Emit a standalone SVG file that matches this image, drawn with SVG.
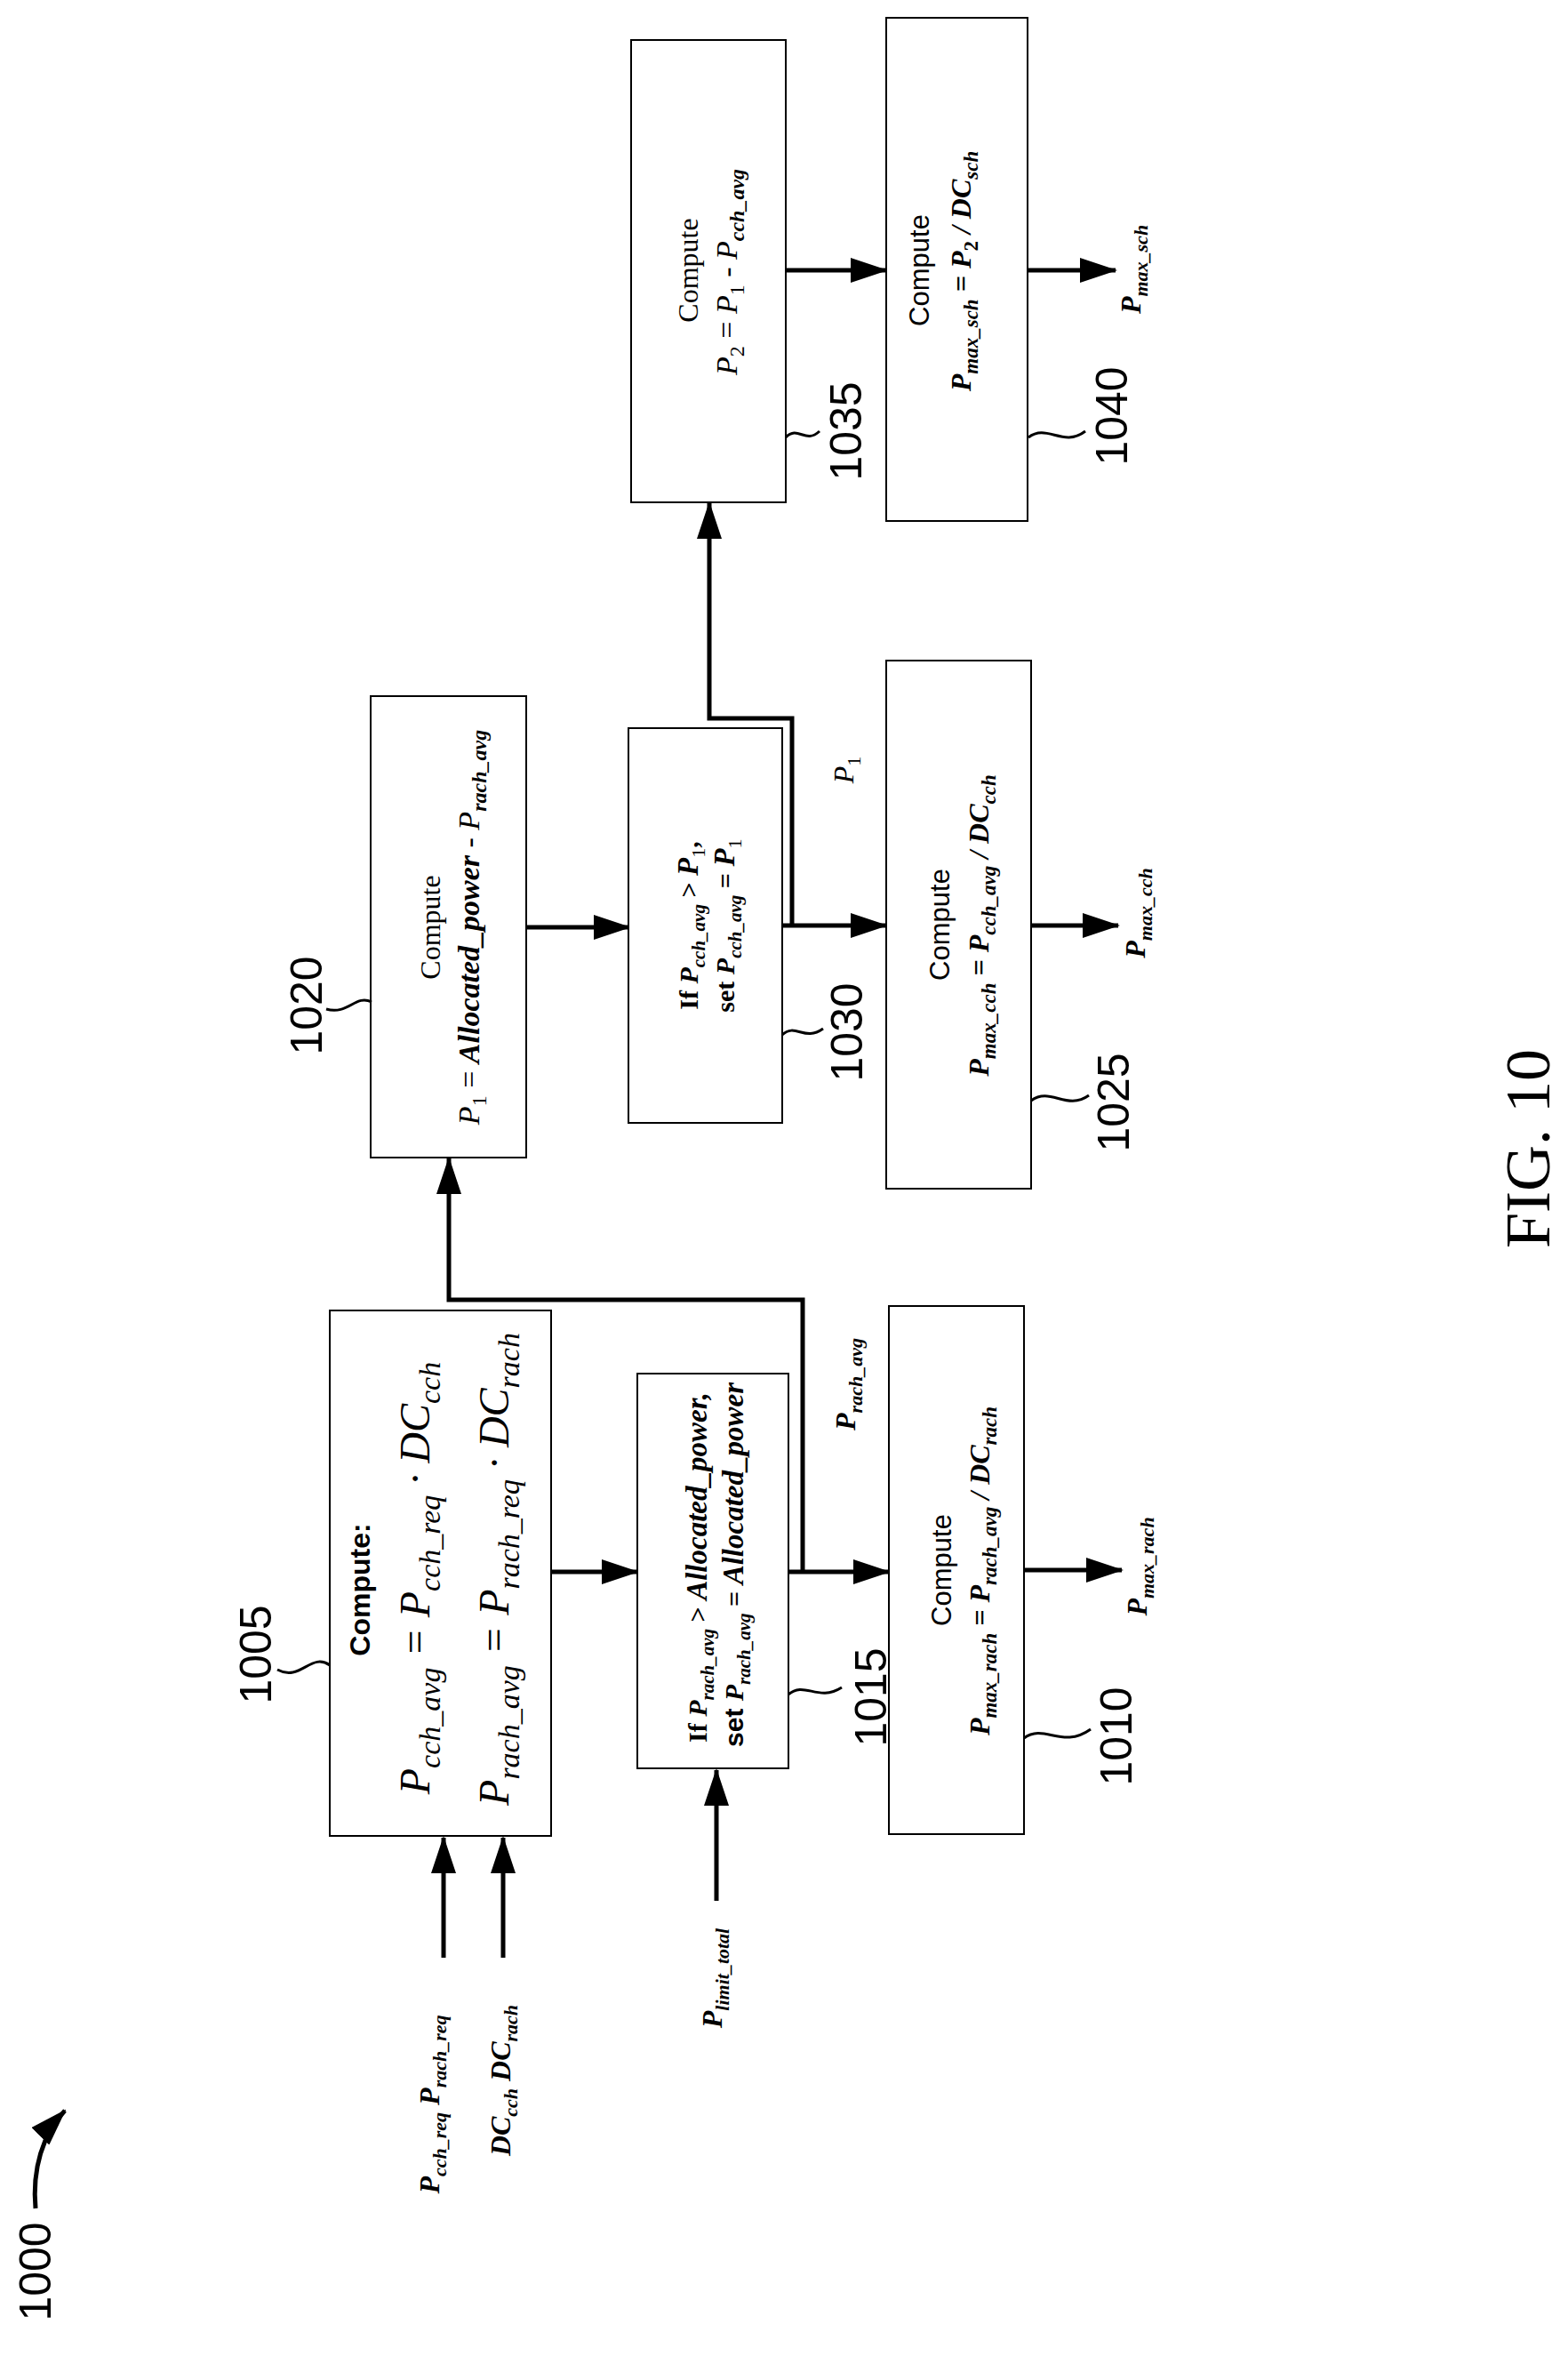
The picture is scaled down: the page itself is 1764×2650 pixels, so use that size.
<svg xmlns="http://www.w3.org/2000/svg" width="1764" height="2650" viewBox="0 0 1764 2650">
<defs>
<marker id="ah" markerUnits="userSpaceOnUse" markerWidth="42" markerHeight="28" refX="40" refY="14" orient="auto"><path d="M0,0 L42,14 L0,28 z" fill="#000"/></marker>
<style>
.box{fill:#fff;stroke:#000;stroke-width:2}
.c{fill:none;stroke:#000;stroke-width:5}
.sq{fill:none;stroke:#000;stroke-width:3}
text{text-anchor:middle;fill:#000}
.sans{font-family:"Liberation Sans",Arial,sans-serif}
.serif{font-family:"Liberation Serif","Times New Roman",serif}
.it{font-family:"Liberation Serif","Times New Roman",serif;font-style:italic}
.bi{font-family:"Liberation Serif","Times New Roman",serif;font-style:italic;font-weight:bold}
.num{font-family:"Liberation Sans",Arial,sans-serif;font-size:50px}
</style>
</defs>
<rect width="1764" height="2650" fill="#fff"/>
<g id="connectors">
<path class="c" d="M499,2202 V2067" marker-end="url(#ah)"/>
<path class="c" d="M566,2202 V2067" marker-end="url(#ah)"/>
<path class="c" d="M806,2138 V1991" marker-end="url(#ah)"/>
<path class="c" d="M620,1768 H717" marker-end="url(#ah)"/>
<path class="c" d="M887,1768 H1000" marker-end="url(#ah)"/>
<path class="c" d="M903,1768 V1462 H505 V1303" marker-end="url(#ah)"/>
<path class="c" d="M592,1043 H708" marker-end="url(#ah)"/>
<path class="c" d="M880,1041 H997" marker-end="url(#ah)"/>
<path class="c" d="M891,1041 V808 H798 V566" marker-end="url(#ah)"/>
<path class="c" d="M884,304 H997" marker-end="url(#ah)"/>
<path class="c" d="M1156,304 H1255" marker-end="url(#ah)"/>
<path class="c" d="M1160,1041 H1258" marker-end="url(#ah)"/>
<path class="c" d="M1152,1766 H1262" marker-end="url(#ah)"/>
<path class="c" d="M40,2484 C36,2440 48,2400 73,2374" marker-end="url(#ah)"/>
</g>
<g id="n1005">
<rect class="box" x="371" y="1474" width="249" height="591"/>
<text class="sans" font-size="32" font-weight="bold" transform="translate(416,1788) rotate(-90)">Compute:</text>
<text class="it" font-size="48" transform="translate(483,1775) rotate(-90)">P<tspan font-size="34" dy="12">cch_avg</tspan><tspan dy="-12"> = P</tspan><tspan font-size="34" dy="12">cch_req</tspan><tspan dy="-12"> · DC</tspan><tspan font-size="34" dy="12">cch</tspan></text>
<text class="it" font-size="48" transform="translate(572,1765) rotate(-90)">P<tspan font-size="34" dy="12">rach_avg</tspan><tspan dy="-12"> = P</tspan><tspan font-size="34" dy="12">rach_req</tspan><tspan dy="-12"> · DC</tspan><tspan font-size="34" dy="12">rach</tspan></text>
<path class="sq" d="M371,1873 C350,1858 338,1892 312,1878"/>
<text class="num" transform="translate(305,1861) rotate(-90)">1005</text>
</g>
<g id="n1015">
<rect class="box" x="717" y="1545" width="170" height="444"/>
<text class="serif" font-size="30" font-weight="bold" transform="translate(795,1763) rotate(-90)">If <tspan class="bi">P</tspan><tspan class="bi" font-size="21" dy="8">rach_avg</tspan><tspan dy="-8"> &gt; </tspan><tspan class="bi" font-size="33">Allocated_power,</tspan></text>
<text class="serif" font-size="30" font-weight="bold" transform="translate(836,1760) rotate(-90)"><tspan class="sans">set </tspan><tspan class="bi">P</tspan><tspan class="bi" font-size="21" dy="8">rach_avg</tspan><tspan dy="-8"> = </tspan><tspan class="bi" font-size="33">Allocated_power</tspan></text>
<path class="sq" d="M887,1906 C905,1890 920,1915 947,1898"/>
<text class="num" transform="translate(997,1909) rotate(-90)">1015</text>
</g>
<g id="n1010">
<rect class="box" x="1000" y="1469" width="152" height="594"/>
<text class="sans" font-size="31" transform="translate(1070,1766) rotate(-90)">Compute</text>
<text class="bi" font-size="32" font-weight="normal" transform="translate(1113,1767) rotate(-90)">P<tspan font-size="23" dy="8" font-weight="bold">max_rach</tspan><tspan dy="-8"> = P</tspan><tspan font-size="23" dy="8" font-weight="bold">rach_avg</tspan><tspan dy="-8"> / DC</tspan><tspan font-size="23" dy="8" font-weight="bold">rach</tspan></text>
<path class="sq" d="M1152,1955 C1175,1938 1195,1968 1227,1945"/>
<text class="num" transform="translate(1273,1953) rotate(-90)">1010</text>
</g>
<g id="n1020">
<rect class="box" x="417" y="783" width="175" height="519"/>
<text class="serif" font-size="32" transform="translate(495,1043) rotate(-90)">Compute</text>
<text class="it" font-size="34" transform="translate(539,1043) rotate(-90)">P<tspan font-size="24" dy="8" font-style="normal">1</tspan><tspan dy="-8" font-style="normal"> = </tspan><tspan font-weight="bold">Allocated_power</tspan><tspan font-style="normal"> - </tspan>P<tspan font-size="24" dy="8" font-weight="bold">rach_avg</tspan></text>
<path class="sq" d="M418,1127 C400,1118 392,1142 367,1135"/>
<text class="num" transform="translate(362,1131) rotate(-90)">1020</text>
</g>
<g id="n1030">
<rect class="box" x="707" y="819" width="173" height="444"/>
<text class="serif" font-size="30" font-weight="bold" transform="translate(785,1041) rotate(-90)">If <tspan class="bi">P</tspan><tspan class="bi" font-size="21" dy="8">cch_avg</tspan><tspan dy="-8"> &gt; </tspan><tspan class="it" font-size="33">P</tspan><tspan font-size="22" dy="8" font-weight="normal">1</tspan><tspan dy="-8">,</tspan></text>
<text class="serif" font-size="30" font-weight="bold" transform="translate(826,1041) rotate(-90)">set <tspan class="bi">P</tspan><tspan class="bi" font-size="21" dy="8">cch_avg</tspan><tspan dy="-8"> = </tspan><tspan class="it" font-size="33">P</tspan><tspan font-size="22" dy="8" font-weight="normal">1</tspan></text>
<path class="sq" d="M880,1164 C895,1150 905,1172 926,1157"/>
<text class="num" transform="translate(970,1161) rotate(-90)">1030</text>
</g>
<g id="n1025">
<rect class="box" x="997" y="743" width="163" height="594"/>
<text class="sans" font-size="31" transform="translate(1068,1040) rotate(-90)">Compute</text>
<text class="bi" font-size="32" font-weight="normal" transform="translate(1112,1041) rotate(-90)">P<tspan font-size="23" dy="8" font-weight="bold">max_cch</tspan><tspan dy="-8"> = P</tspan><tspan font-size="23" dy="8" font-weight="bold">cch_avg</tspan><tspan dy="-8"> / DC</tspan><tspan font-size="23" dy="8" font-weight="bold">cch</tspan></text>
<path class="sq" d="M1160,1238 C1182,1222 1200,1250 1225,1232"/>
<text class="num" transform="translate(1270,1240) rotate(-90)">1025</text>
</g>
<g id="n1035">
<rect class="box" x="710" y="45" width="174" height="520"/>
<text class="serif" font-size="32" transform="translate(785,304) rotate(-90)">Compute</text>
<text class="it" font-size="34" transform="translate(829,306) rotate(-90)">P<tspan font-size="24" dy="8" font-style="normal">2</tspan><tspan dy="-8" font-style="normal"> = </tspan>P<tspan font-size="24" dy="8" font-style="normal">1</tspan><tspan dy="-8" font-style="normal"> - </tspan>P<tspan font-size="24" dy="8" font-weight="bold">cch_avg</tspan></text>
<path class="sq" d="M884,492 C898,478 906,500 922,485"/>
<text class="num" transform="translate(969,485) rotate(-90)">1035</text>
</g>
<g id="n1040">
<rect class="box" x="997" y="20" width="159" height="566"/>
<text class="sans" font-size="31" transform="translate(1045,304) rotate(-90)">Compute</text>
<text class="bi" font-size="32" font-weight="normal" transform="translate(1092,305) rotate(-90)">P<tspan font-size="23" dy="8" font-weight="bold">max_sch</tspan><tspan dy="-8"> = P</tspan><tspan font-size="23" dy="8" font-style="normal">2</tspan><tspan dy="-8"> / DC</tspan><tspan font-size="23" dy="8" font-weight="bold">sch</tspan></text>
<path class="sq" d="M1157,492 C1178,476 1196,504 1221,485"/>
<text class="num" transform="translate(1268,468) rotate(-90)">1040</text>
</g>
<g id="labels">
<text class="bi" font-size="32" transform="translate(494,2367) rotate(-90)">P<tspan font-size="22" dy="8">cch_req</tspan><tspan dy="-8"> P</tspan><tspan font-size="22" dy="8">rach_req</tspan></text>
<text class="bi" font-size="32" transform="translate(574,2340) rotate(-90)">DC<tspan font-size="22" dy="8">cch</tspan><tspan dy="-8"> DC</tspan><tspan font-size="22" dy="8">rach</tspan></text>
<text class="bi" font-size="32" transform="translate(812,2225) rotate(-90)">P<tspan font-size="22" dy="8">limit_total</tspan></text>
<text class="bi" font-size="32" transform="translate(962,1557) rotate(-90)">P<tspan font-size="22" dy="8">rach_avg</tspan></text>
<text class="it" font-size="32" transform="translate(960,866) rotate(-90)">P<tspan font-size="22" dy="8" font-style="normal">1</tspan></text>
<text class="bi" font-size="32" transform="translate(1288,1027) rotate(-90)">P<tspan font-size="22" dy="8">max_cch</tspan></text>
<text class="bi" font-size="32" transform="translate(1290,1762) rotate(-90)">P<tspan font-size="22" dy="8">max_rach</tspan></text>
<text class="bi" font-size="32" transform="translate(1283,303) rotate(-90)">P<tspan font-size="22" dy="8">max_sch</tspan></text>
<text class="num" transform="translate(57,2555) rotate(-90)">1000</text>
<text class="serif" font-size="72" transform="translate(1743,1292) rotate(-90)">FIG. 10</text>
</g>
</svg>
